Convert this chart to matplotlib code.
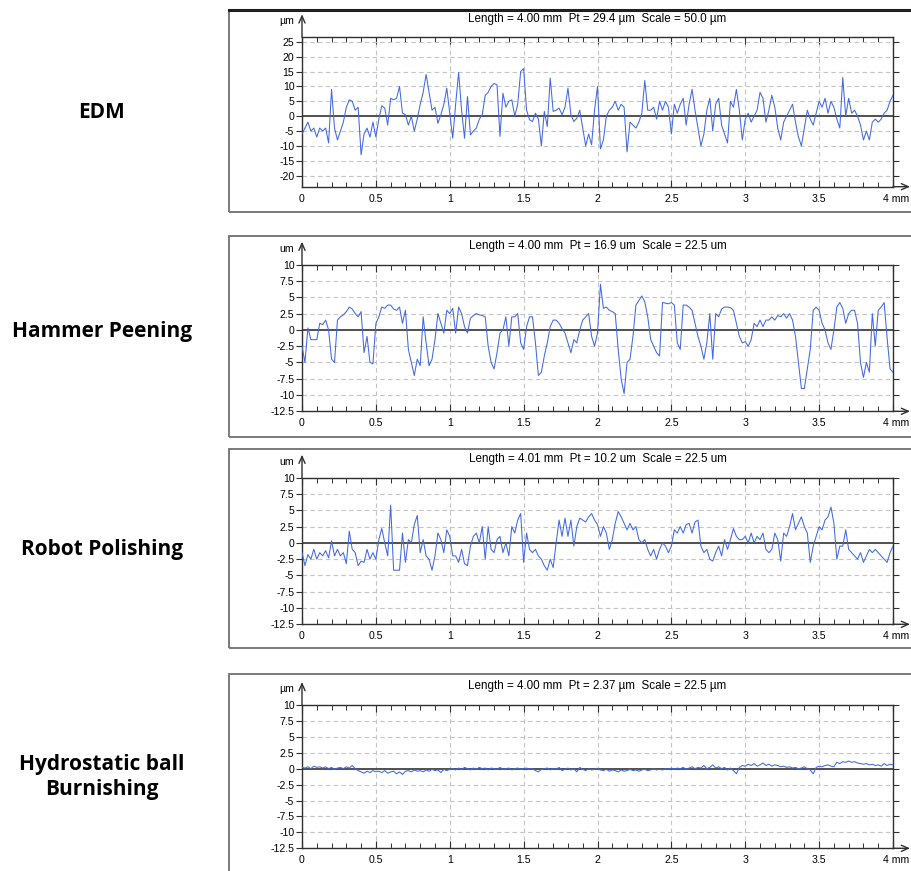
import numpy as np
import matplotlib.pyplot as plt
from matplotlib.patches import Rectangle
from matplotlib.ticker import MultipleLocator

plt.rcParams['axes.unicode_minus'] = False
plt.rcParams['font.family'] = ['Liberation Sans', 'DejaVu Sans']

# ---- profile data (um), sampled every 0.02 mm over 0..4 mm ----
edm_vals = [
    -6, -4, -2, -5, -4, -7, -4, -5, -4, -9,
    9, -4, -8, -5, -2, 3, 5.5, 5, 2, 3,
    -13, -6, -4, -7, -2, -7, -1, 3.5, 2.7, -3,
    6, 5.5, 6, 10, 1, 0.5, -3, 0, -5, -1,
    4, 8, 14, 8, 2, 3, -2.4, 0.5, 4, 9.4,
    1, -7.4, 4, 14.7, 2, -7.4, 6.6, -6.3, -5, -4,
    -1, 0.5, 7, 8, 10, 11, 10.5, -6.8, 7.7, 3,
    5, 5.5, 0, 4, 15, 16, 2, -1.2, -1.8, 1,
    -1, -10, 1.6, -3.5, 12.8, 1.6, 2, 2.7, 0.5, 3,
    9.4, 0.5, -1.8, -0.7, 2, -4, -10, -6, -9.6, 2,
    10, -11, -8, 0, 2, 3, 5, 2, 4, 3,
    -12, -2, -3, -4, -2, 1, 12, 2, 2, 3,
    -1, 5, 2, 5, 3, -6, 4, 1, 4, 6,
    -3, 4, 9, 2, -4, -10, -6, 2, 6, -5,
    4, 6, -3, -6, -9, 5, 3, 9, 2, -8,
    -1, 1, -2, 0, 2, 8, 6, -2, 2, 7,
    3, -4, -8, -2, 0, 2, 4, -2, -7, -10,
    -4, 2, -1, -3, 1, 5, 3, 6, 1, 5,
    3, -1, -4, 13, 0, 6, 1, 2, 0, -3,
    -8, -5, -8, -2, -1, -2, -1, 1, 2, 5,
    7,
]

hp_vals = [
    -2.5, -5, 0.3, -1.5, -1.5, -1.5, 1, 0.8, 1.5, 0,
    -4.5, -5, 1.5, 2, 2.3, 2.8, 3.5, 3.2, 2.5, 2,
    2.8, -3.5, -1, -5, -5.2, 1, 2, 3.5, 3.3, 3.8,
    3.8, 3.2, 3, 3.5, 1, 3, -3, -5, -7, -4.5,
    -5.5, 2, -2, -5.5, -4.5, -1.5, 2.5, 1, -0.5, 3,
    2.5, 3.3, -0.5, 3.5, 2.5, 0.5, -0.5, 1.8, 2.2, 2.5,
    2.3, 2.2, 2, -2.5, -5, -6, -3.5, -0.5, 0, 2,
    -2.5, 2, 2, 2.5, -2, -3, 0.5, 2, 2, -2,
    -7, -6.5, -4, -2, 0.5, 1.5, 1.5, 1, 0.2, -0.5,
    -2, -3.5, -1.5, -2, 0, 1.5, 2, 2.5, -1, -2.5,
    -0.5, 7, 3.3, 3.5, 3, 2.8, 2.5, -3, -7.5, -9.8,
    -5, -4.5, -1, 3.8, 4.5, 5.2, 4.3, 2, -1.5, -2.5,
    -3.5, -4, 4.2, 4.1, 4, 4.2, 3.8, -2, -3, 3.8,
    3.8, 3.5, 3, 1, -1, -2.5, -4.5, -2, 2.5, -4.5,
    2.5, 2, 3.2, 3.5, 3.5, 3.4, 3, 1, -1, -2,
    -1.8, -2.5, -1.5, 1, 0.5, 1.5, 0.5, 1.5, 1.5, 2,
    1.5, 2.2, 2, 2.5, 1.8, 2.5, 1.5, -1, -5, -9,
    -9, -6, -3, 3, 3.5, 3, 1, 0, -2, -3,
    0, 3.5, 4.2, 3.3, 1, 2.5, 3, 3, 1, -5,
    -7.3, -5, -6.5, 2.5, -2.5, 3, 3.5, 4.2, -1.2, -6,
    -6.5,
]

rp_vals = [
    -1.5, -3.5, -1.8, -2.5, -1, -2.5, -1.5, -2, -1.2, -2.3,
    0.3, -2, -1, -2, -1.5, -3.2, 1.8, -1, -1.5, -3.5,
    -2.8, -3, -1, -2.5, -1.5, -2.5, 0.5, 2.2, 0, -2,
    5.8, -4.2, -4.2, -4.2, 1.5, -3, 0.5, 0, 2.8, 4.2,
    -1.5, 0.5, -2, -2.5, -4.2, -2, 1.5, 0.5, -1.5, 2,
    1, -2, -2, -3, -1, -3.2, -3.5, -0.5, 1, 1.5,
    0, 2.5, -2.5, 2.5, -1, -1.5, 0.5, 1, -1.5, 0,
    -2, 2.5, 1.5, 3.5, 4.5, -3, 1.5, -1, -1.5, -1,
    -2, -2.5, -3.5, -4.2, -2.5, -3.8, 0, 3.5, 1, 3.8,
    1, 3.5, -0.5, 2.5, 3.8, 3.5, 3.2, 4, 4.5, 3.5,
    2.8, 1, 2.5, 1.5, -1, 0.5, 3, 4.8, 4, 3,
    2, 3, 2, 2.5, 0.5, 0, 0.5, -1, -2, -1,
    -2.5, -1, 0, -0.5, -1.5, -0.5, 2, 1.5, 2.5, 1.5,
    2.8, 3, 1.5, 3.2, 3.5, -0.5, -1.5, -1, -2.5, -2.8,
    -1.5, -0.5, -2, 0.5, -1, 0.5, 2.2, 1, 0.5, 0.5,
    1, 0, 1.5, 0, 1, 0.5, 1.5, -1, -1.5, -1,
    1.5, 0.5, -2.8, 1.5, 1, 2.5, 4.5, 2, 3, 4,
    2.5, 1.5, -3, -0.5, 1, 2.5, 2, 3.5, 4, 5.5,
    3, -2.5, -0.5, -0.5, 2, -1, -1.5, -2, -2.5, -1.5,
    -3, -2, -1, -1.5, -1, -1.5, -2, -2.5, -3, -1.5,
    -0.5,
]

hbb_vals = [
    0.2, 0.1, 0.3, 0.0, 0.4, 0.2, 0.3, 0.1, 0.3, 0.0, 0.2, -0.1, 0.1, 0.2, 0.0, 0.3, 0.1, 0.5,
    0.0, -0.3, -0.5, -0.7, -0.4, -0.6, -0.3, -0.5, -0.4, -0.6, -0.3, -0.7, -0.5, -0.4, -0.8, -0.5, -0.9, -0.4,
    -0.3, -0.5, -0.2, -0.4, -0.3, -0.5, -0.2, -0.4, -0.1, -0.3, -0.2, -0.6, -0.1, -0.3, -0.1,
    0.0, -0.2, 0.1, -0.1, 0.2, 0.0, -0.2, 0.1, -0.1, 0.2, 0.0, 0.1, -0.2, 0.1, 0.0, -0.1, 0.2, -0.1, 0.0, 0.1, -0.2, 0.0, 0.1, -0.1, 0.0,
    0.1, -0.1, 0.0, -0.3, -0.5, -0.1, 0.0, 0.1, -0.2, 0.0, -0.1, 0.2, -0.3, -0.1, 0.1, -0.2, 0.0, -0.5, 0.2, -0.1, -0.3, 0.0, -0.2, -0.1, 0.0,
    -0.2, -0.3, -0.1, -0.4, -0.2, -0.3, -0.5, -0.2, -0.4, -0.3, -0.1, -0.3, -0.2, -0.4, -0.2, -0.1, -0.3, -0.2, 0.0, -0.2, -0.1, -0.2, 0.0, -0.1, 0.1,
    -0.1, 0.1, 0.0, 0.2, -0.1, 0.1, 0.3, 0.0, 0.2, 0.1, 0.5, 0.0, 0.2, 0.6, 0.1, 0.3, 0.0, 0.2, -0.2, 0.1,
    -0.3, -0.8, 0.2, 0.5, 0.4,
    0.7, 0.5, 0.8, 0.4, 0.6, 0.9, 0.5, 0.7, 0.4, 0.6, 0.5, 0.3, 0.4, 0.2, 0.3,
    0.1, 0.2, 0.0, 0.1, 0.3, 0.0, -0.2, -0.8, 0.2, 0.4,
    0.3, 0.5, 0.6, 0.4, 0.3,
    1.0, 0.8, 1.1, 1.0, 1.2, 1.0, 1.1, 0.9, 0.8, 0.7,
    0.8, 0.6, 0.7, 0.5, 0.6, 0.4, 0.8, 0.5, 0.7, 0.6,
]

series = [edm_vals, hp_vals, rp_vals, hbb_vals]
names = ["EDM", "Hammer Peening", "Robot Polishing", "Hydrostatic ball\nBurnishing"]
titles = [
    "Length = 4.00 mm  Pt = 29.4 \u00b5m  Scale = 50.0 \u00b5m",
    "Length = 4.00 mm  Pt = 16.9 um  Scale = 22.5 um",
    "Length = 4.01 mm  Pt = 10.2 um  Scale = 22.5 um",
    "Length = 4.00 mm  Pt = 2.37 \u00b5m  Scale = 22.5 \u00b5m",
]
units = ["\u00b5m", "um", "um", "\u00b5m"]
ylims = [(-23.7, 26.5), (-12.5, 10), (-12.5, 10), (-12.5, 10)]
yticks_edm = [25, 20, 15, 10, 5, 0, -5, -10, -15, -20]
yticks_small = [10, 7.5, 5, 2.5, 0, -2.5, -5, -7.5, -10, -12.5]
yticks = [yticks_edm, yticks_small, yticks_small, yticks_small]
xticks = [0, 0.5, 1, 1.5, 2, 2.5, 3, 3.5, 4]
xlabels = ["0", "0.5", "1", "1.5", "2", "2.5", "3", "3.5", ""]
x_end_label = "4 mm"

# ---- layout in pixels of the 912x871 picture ----
W, H = 912, 871
ax_top = [37.3, 264.7, 477.7, 705]
ax_bot = [186.7, 411.3, 624.3, 848.3]
box_top = [10, 236.5, 449, 674]
box_bot = [212, 437, 648, 885]
name_y = [113, 331, 549, 777]

fig = plt.figure(figsize=(W / 100, H / 100), dpi=100)

line_col = '#4169e1'
axis_col = '#303030'
tick_fs = 7.6

for i in range(4):
    # outer frame of each screenshot
    fig.add_artist(Rectangle((229 / W, 1 - box_bot[i] / H), 700 / W,
                             (box_bot[i] - box_top[i]) / H,
                             transform=fig.transFigure, fill=False,
                             ec='#707070', lw=1.3))
    if i == 0:
        fig.add_artist(plt.Line2D([229 / W, 1.0], [1 - box_top[i] / H] * 2,
                                  transform=fig.transFigure, color='#202020', lw=2.2))

    ax = fig.add_axes([302 / W, 1 - ax_bot[i] / H, 591 / W, (ax_bot[i] - ax_top[i]) / H])
    vals = series[i]
    x = np.linspace(0, 4.0, len(vals))
    ax.plot(x, vals, color=line_col, lw=0.75, zorder=3)
    ax.axhline(0, color='#505050', lw=1.4, zorder=2)

    ax.set_xlim(0, 4)
    ax.set_ylim(*ylims[i])
    ax.set_xticks(xticks)
    ax.set_xticklabels(xlabels, fontsize=tick_fs)
    ax.xaxis.set_minor_locator(MultipleLocator(0.1))
    ax.set_yticks(yticks[i])
    ax.set_yticklabels(['%g' % v for v in yticks[i]], fontsize=tick_fs)

    ax.grid(True, which='major', color='#c4c4c4', ls=(0, (4, 3)), lw=0.8, zorder=1)
    ax.tick_params(axis='x', which='major', top=True, bottom=True, direction='in',
                   length=5, width=0.8, color=axis_col, pad=5)
    ax.tick_params(axis='x', which='minor', top=True, bottom=True, direction='in',
                   length=3.5, width=0.7, color=axis_col)
    ax.tick_params(axis='y', left=True, right=True, direction='out',
                   length=4, width=0.8, color=axis_col, pad=1.5)
    for s in ax.spines.values():
        s.set_color(axis_col)
        s.set_linewidth(1.0)

    # end label of the x axis, kept inside the picture
    ax.annotate(x_end_label, xy=(1, 0), xycoords='axes fraction', xytext=(-7, -5),
                textcoords='offset points', ha='left', va='top', fontsize=tick_fs)

    # axis arrows
    h_px = ax_bot[i] - ax_top[i]
    ax.annotate('', xy=(0, 1 + 23 / h_px), xytext=(0, 1), xycoords='axes fraction',
                arrowprops=dict(arrowstyle='->,head_length=0.5,head_width=0.22',
                                color=axis_col, lw=1.0, shrinkA=0, shrinkB=0),
                annotation_clip=False)
    ax.annotate('', xy=(1 + 17 / 591, 0), xytext=(1, 0), xycoords='axes fraction',
                arrowprops=dict(arrowstyle='->,head_length=0.5,head_width=0.22',
                                color=axis_col, lw=1.0, shrinkA=0, shrinkB=0),
                annotation_clip=False)

    ax.annotate(units[i], xy=(0, 1), xycoords='axes fraction', xytext=(-6, 11.5),
                textcoords='offset points', ha='right', va='center', fontsize=tick_fs)
    ax.annotate(titles[i], xy=(0.5, 1), xycoords='axes fraction', xytext=(0, 13.5),
                textcoords='offset points', ha='center', va='center', fontsize=8.4)

    fig.text(102 / W, 1 - name_y[i] / H, names[i], ha='center', va='center',
             fontsize=15, fontweight='bold', family=['Open Sans', 'DejaVu Sans'],
             linespacing=1.25)

fig.savefig('out.png', dpi=100)
